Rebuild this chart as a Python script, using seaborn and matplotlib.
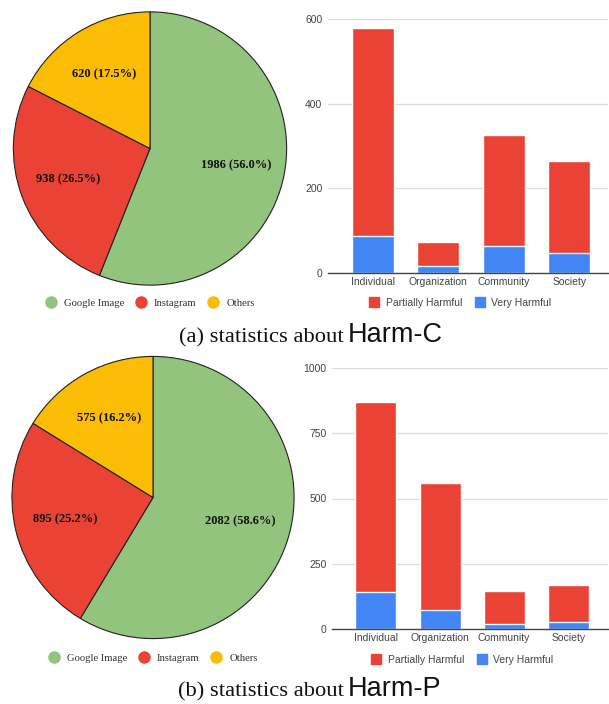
import matplotlib
matplotlib.use('Agg')
import matplotlib.pyplot as plt
import seaborn as sns
import pandas as pd
from matplotlib.lines import Line2D

# ---- data ----
sources = ['Google Image', 'Instagram', 'Others']
counts_c = [1986, 938, 620]
counts_p = [2082, 895, 575]

targets = ['Individual', 'Organization', 'Community', 'Society']
partial_c = [492, 56, 262, 218]
very_c = [88, 17, 63, 47]
partial_p = [731, 488, 126, 142]
very_p = [140, 71, 20, 27]

ticks_c = [0, 200, 400, 600]
ticks_p = [0, 250, 500, 750, 1000]

GREEN, RED, YELLOW, BLUE = '#93C47D', '#EA4335', '#FBBC04', '#4285F4'

sns.set_theme(style='white')
plt.rcParams['font.family'] = ['Liberation Sans', 'DejaVu Sans']

W, H = 609, 704
fig = plt.figure(figsize=(W / 100, H / 100), dpi=100)


def px(x, y, w, h):
    # pixel box (top-left origin) -> figure fraction
    return [x / W, 1 - (y + h) / H, w / W, h / H]


def draw_pie(box, counts, legend_y):
    ax = fig.add_axes(px(*box))
    total = sum(counts)
    ax.pie(counts, colors=[GREEN, RED, YELLOW], startangle=90, counterclock=False,
           radius=1, pctdistance=0.64,
           autopct=lambda p: f'{round(p * total / 100)} ({p:.1f}%)',
           wedgeprops=dict(edgecolor='#222222', linewidth=0.8),
           textprops=dict(family='Liberation Serif', fontweight='bold',
                          fontsize=9, color='#111111'))
    ax.set_xlim(-1.01, 1.01)
    ax.set_ylim(-1.01, 1.01)
    ax.set_aspect('equal')
    handles = [Line2D([], [], marker='o', linestyle='', markersize=8,
                      markerfacecolor=c, markeredgecolor=c)
               for c in [GREEN, RED, YELLOW]]
    cx = (box[0] + box[2] / 2) / W
    fig.legend(handles, sources, loc='center', bbox_to_anchor=(cx, 1 - legend_y / H),
               ncol=3, frameon=False, handlelength=1.0, handletextpad=0.7,
               columnspacing=1.1,
               prop=dict(family='Liberation Serif', size=7.7), labelcolor='#333333')


def draw_bars(box, partial, very, ticks, xlim, legend_y):
    ax = fig.add_axes(px(*box))
    df = pd.DataFrame({'target': targets,
                       'total': [a + b for a, b in zip(partial, very)],
                       'very': very})
    sns.barplot(data=df, x='target', y='total', color=RED, saturation=1,
                width=0.64, ax=ax)
    sns.barplot(data=df, x='target', y='very', color=BLUE, saturation=1,
                width=0.64, ax=ax)
    ax.set_xlim(*xlim)
    ax.set_ylim(ticks[0], ticks[-1])
    ax.set_yticks(ticks)
    ax.set_xlabel('')
    ax.set_ylabel('')
    ax.grid(True, axis='y', color='#dddddd', linewidth=0.9)
    ax.set_axisbelow(True)
    for s in ['top', 'right', 'left']:
        ax.spines[s].set_visible(False)
    ax.spines['bottom'].set_color('#444444')
    ax.spines['bottom'].set_linewidth(1)
    ax.tick_params(axis='both', length=0, labelsize=7.5, labelcolor='#444444')
    ax.tick_params(axis='x', pad=3)
    ax.tick_params(axis='y', pad=4)
    handles = [Line2D([], [], marker='s', linestyle='', markersize=7.5,
                      markerfacecolor=c, markeredgecolor=c) for c in [RED, BLUE]]
    cx = (box[0] + box[2] / 2 - 8) / W
    fig.legend(handles, ['Partially Harmful', 'Very Harmful'], loc='center',
               bbox_to_anchor=(cx, 1 - legend_y / H), ncol=2, frameon=False,
               handlelength=1.0, handletextpad=0.6,
               columnspacing=1.2, prop=dict(size=7.5), labelcolor='#444444')


def caption(y, prefix, name):
    fig.text(344 / W, 1 - y / H, prefix, ha='right', va='baseline',
             family='Liberation Serif', fontsize=16.2, color='#111111')
    fig.text(348 / W, 1 - y / H, name, ha='left', va='baseline',
             family='Liberation Sans', fontsize=19.5, color='#111111')


# (a) Harm-C
draw_pie((12, 10.5, 276, 276), counts_c, 303)
draw_bars((328, 19.3, 280, 253.4), partial_c, very_c, ticks_c, (-0.682, 3.591), 303)
caption(342, '(a) statistics about', 'Harm-C')

# (b) Harm-P
draw_pie((10.5, 355, 285, 285), counts_p, 658)
draw_bars((332, 368, 276, 261), partial_p, very_p, ticks_p, (-0.686, 3.62), 660)
caption(696, '(b) statistics about', 'Harm-P')

fig.savefig('out.png', dpi=100)
